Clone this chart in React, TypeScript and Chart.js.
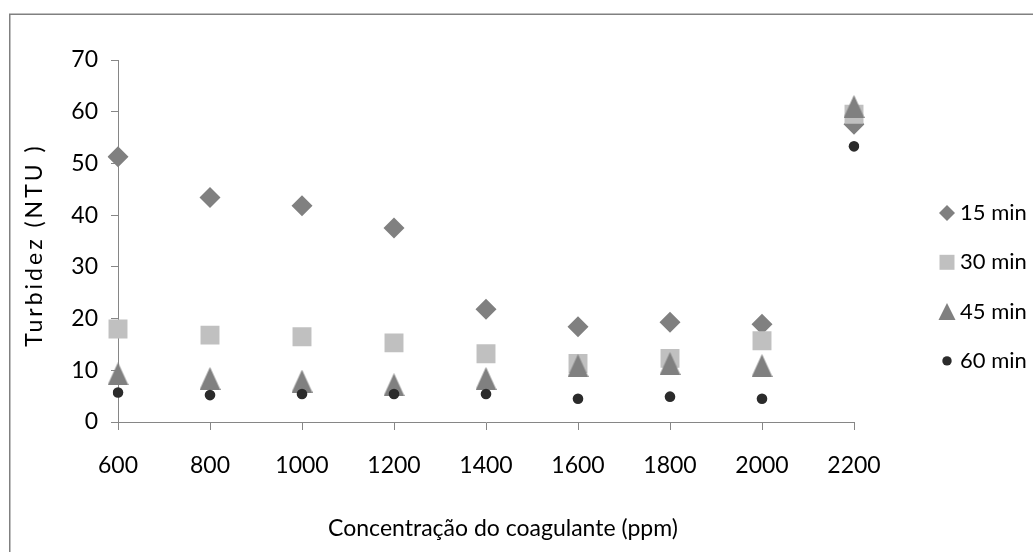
import React, { useEffect, useRef } from 'react';
import { Chart, registerables } from 'chart.js';

Chart.register(...registerables);

// ---------- data ----------
const xLabels = ['600', '800', '1000', '1200', '1400', '1600', '1800', '2000', '2200'];
const seriesNames = ['15 min', '30 min', '45 min', '60 min'];
const min15 = [51.3, 43.4, 41.8, 37.5, 21.8, 18.4, 19.3, 18.9, 57.6];
const min30 = [18.0, 16.8, 16.5, 15.3, 13.2, 11.3, 12.3, 15.7, 59.5];
const min45 = [9.3, 8.4, 7.9, 7.2, 8.4, 10.9, 11.3, 10.9, 61.0];
const min60 = [5.7, 5.2, 5.4, 5.4, 5.4, 4.5, 4.9, 4.5, 53.3];
const yMin = 0;
const yMax = 70;
const yStep = 10;
const xTitle = 'Concentração do coagulante (ppm)';
const yTitle = 'Turbidez (NTU )';

// ---------- styles ----------
const FONT = 'Lato, "DejaVu Sans", sans-serif';
const AXIS = '#868686';
const C15 = '#808080';
const C30 = '#c0c0c0';
const C45 = '#808080';
const C60 = '#2b2b2b';

function makeTriangle(w: number, h: number, color: string) {
  const c = document.createElement('canvas');
  c.width = w;
  c.height = h;
  const g = c.getContext('2d')!;
  g.fillStyle = color;
  g.beginPath();
  g.moveTo(w / 2, 0);
  g.lineTo(w, h);
  g.lineTo(0, h);
  g.closePath();
  g.fill();
  return c;
}

function drawMarker(ctx: CanvasRenderingContext2D, kind: string, x: number, y: number, color: string) {
  ctx.save();
  ctx.fillStyle = color;
  ctx.beginPath();
  if (kind === 'diamond') {
    const r = 8;
    ctx.moveTo(x, y - r);
    ctx.lineTo(x + r, y);
    ctx.lineTo(x, y + r);
    ctx.lineTo(x - r, y);
    ctx.closePath();
  } else if (kind === 'square') {
    const s = 7.5;
    ctx.rect(x - s, y - s, 2 * s, 2 * s);
  } else if (kind === 'triangle') {
    const w = 8.5;
    const h = 8.5;
    ctx.moveTo(x, y - h);
    ctx.lineTo(x + w, y + h);
    ctx.lineTo(x - w, y + h);
    ctx.closePath();
  } else {
    ctx.arc(x, y, 4.7, 0, Math.PI * 2);
  }
  ctx.fill();
  ctx.restore();
}

const framePlugin = {
  id: 'frame',
  beforeDraw(chart: any) {
    const { ctx, width, height } = chart;
    ctx.save();
    ctx.fillStyle = '#ffffff';
    ctx.fillRect(0, 0, width, height);
    ctx.strokeStyle = '#808080';
    ctx.lineWidth = 1.5;
    ctx.beginPath();
    ctx.moveTo(9.75, height);
    ctx.lineTo(9.75, 14.25);
    ctx.lineTo(width, 14.25);
    ctx.stroke();
    ctx.restore();
  },
};

const axisTitlesPlugin = {
  id: 'axisTitles',
  afterDraw(chart: any) {
    const { ctx, chartArea } = chart;
    ctx.save();
    ctx.fillStyle = '#000000';
    ctx.textAlign = 'center';
    ctx.textBaseline = 'middle';
    // x title
    ctx.font = `23px ${FONT}`;
    ctx.fillText(xTitle, (chartArea.left + chartArea.right) / 2 + 17, chartArea.bottom + 107);
    // y title (letter-spaced, rotated)
    ctx.translate(chartArea.left - 83, (chartArea.top + chartArea.bottom) / 2 + 4);
    ctx.rotate(-Math.PI / 2);
    (ctx as any).letterSpacing = '3px';
    ctx.font = `23px ${FONT}`;
    ctx.fillText(yTitle, 0, 0);
    ctx.restore();
  },
};

const sideLegendPlugin = {
  id: 'sideLegend',
  afterDraw(chart: any) {
    const { ctx, chartArea } = chart;
    const x = chartArea.right + 93;
    const y0 = chartArea.top + 153;
    const step = 49.3;
    chart.data.datasets.forEach((ds: any, i: number) => {
      const y = y0 + i * step;
      drawMarker(ctx, ds.markerKind, x, y, ds.backgroundColor);
      ctx.save();
      ctx.fillStyle = '#000000';
      ctx.font = `22px ${FONT}`;
      ctx.textBaseline = 'middle';
      ctx.textAlign = 'left';
      ctx.fillText(ds.label, x + 13, y);
      ctx.restore();
    });
  },
};

export default function App() {
  const ref = useRef<HTMLCanvasElement | null>(null);

  useEffect(() => {
    if (!ref.current) return;
    const tri = makeTriangle(21, 23, C45);
    const chart = new Chart(ref.current, {
      type: 'line',
      data: {
        labels: xLabels,
        datasets: [
          {
            label: seriesNames[0],
            data: min15,
            showLine: false,
            pointStyle: 'rectRot',
            pointRadius: 10.5,
            pointHoverRadius: 10.5,
            backgroundColor: C15,
            borderColor: C15,
            borderWidth: 0,
            pointBorderWidth: 0,
            order: 4,
            markerKind: 'diamond',
          } as any,
          {
            label: seriesNames[1],
            data: min30,
            showLine: false,
            pointStyle: 'rect',
            pointRadius: 13.4,
            pointHoverRadius: 13.4,
            backgroundColor: C30,
            borderColor: C30,
            borderWidth: 0,
            pointBorderWidth: 0,
            order: 3,
            markerKind: 'square',
          } as any,
          {
            label: seriesNames[2],
            data: min45,
            showLine: false,
            pointStyle: tri,
            pointRadius: 11,
            pointHoverRadius: 11,
            backgroundColor: C45,
            borderColor: C45,
            borderWidth: 0,
            pointBorderWidth: 0,
            order: 2,
            markerKind: 'triangle',
          } as any,
          {
            label: seriesNames[3],
            data: min60,
            showLine: false,
            pointStyle: 'circle',
            pointRadius: 5.3,
            pointHoverRadius: 5.3,
            backgroundColor: C60,
            borderColor: C60,
            borderWidth: 0,
            pointBorderWidth: 0,
            order: 1,
            markerKind: 'circle',
          } as any,
        ],
      },
      options: {
        animation: false,
        responsive: true,
        maintainAspectRatio: false,
        layout: { padding: { left: 10, top: 60, right: 179, bottom: 0 } },
        plugins: {
          legend: { display: false },
          tooltip: { enabled: false },
        },
        scales: {
          x: {
            type: 'category',
            offset: false,
            grid: {
              display: true,
              drawOnChartArea: false,
              drawTicks: true,
              tickLength: 8,
              color: AXIS,
              offset: false,
            },
            border: { display: true, color: AXIS, width: 1 },
            ticks: {
              color: '#000000',
              font: { family: FONT, size: 23 },
              padding: 22,
              maxRotation: 0,
              autoSkip: false,
            },
            title: { display: false, text: xTitle },
            afterFit: (s: any) => {
              s.height = 130;
            },
          },
          y: {
            type: 'linear',
            min: yMin,
            max: yMax,
            grid: {
              display: true,
              drawOnChartArea: false,
              drawTicks: true,
              tickLength: 7,
              color: AXIS,
            },
            border: { display: true, color: AXIS, width: 1 },
            ticks: {
              stepSize: yStep,
              color: '#000000',
              font: { family: FONT, size: 23 },
              padding: 13,
            },
            title: { display: false, text: yTitle },
            afterFit: (s: any) => {
              s.width = 108;
            },
          },
        },
      } as any,
      plugins: [framePlugin, axisTitlesPlugin, sideLegendPlugin],
    });
    return () => chart.destroy();
  }, []);

  return (
    <div style={{ position: 'absolute', left: 0, top: 0, width: 1033, height: 552 }}>
      <canvas ref={ref} />
    </div>
  );
}
